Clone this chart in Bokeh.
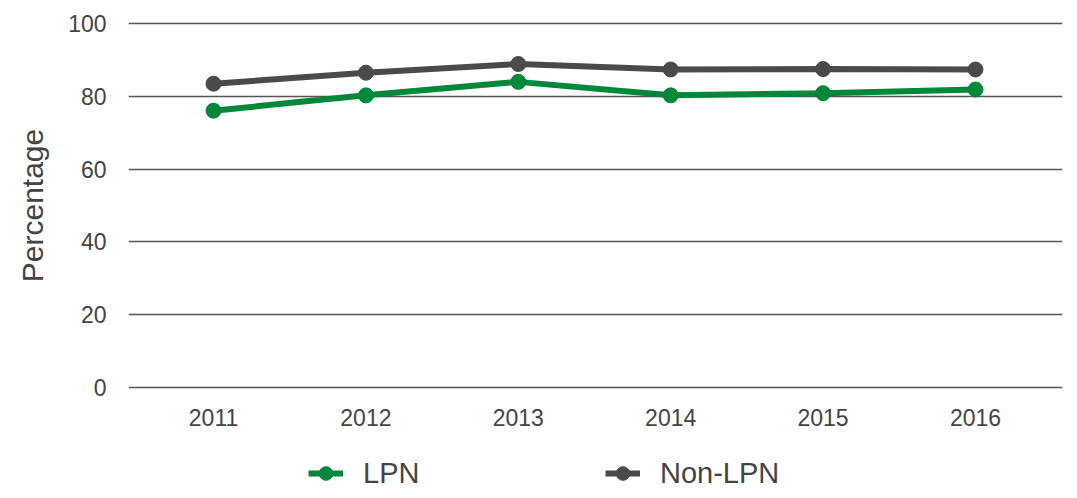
from bokeh.plotting import figure
from bokeh.models import Range1d, FixedTicker, Legend, LegendItem
from bokeh.layouts import column
from bokeh.embed import file_html
from bokeh.resources import INLINE

years = [2011, 2012, 2013, 2014, 2015, 2016]
year_labels = ["2011", "2012", "2013", "2014", "2015", "2016"]
lpn = [76.0, 80.2, 83.9, 80.2, 80.8, 81.8]
non_lpn = [83.4, 86.4, 88.8, 87.3, 87.4, 87.3]
y_ticks = [0, 20, 40, 60, 80, 100]
series = [("LPN", lpn, "#00873a"), ("Non-LPN", non_lpn, "#4a4a4a")]

TEXT = "#444444"
FONT = "Liberation Sans"
W = 1069

xr = Range1d(2010.442, 2016.571)
yr = Range1d(-1, 101)

p = figure(width=W, height=440, output_backend="svg", toolbar_location=None,
           x_range=xr, y_range=yr,
           min_border_left=128, min_border_right=7, min_border_top=19,
           min_border_bottom=49)
p.outline_line_color = None

for name, vals, col in series:
    p.line(years, vals, line_color=col, line_width=6)
    p.scatter(years, vals, size=15, fill_color=col, line_color=col)

p.xgrid.grid_line_color = None
p.ygrid.grid_line_color = "#555555"
p.ygrid.grid_line_width = 1.5
p.ygrid.ticker = FixedTicker(ticks=y_ticks)

p.xaxis.ticker = FixedTicker(ticks=years)
p.xaxis.major_label_overrides = {y: l for y, l in zip(years, year_labels)}
p.yaxis.ticker = FixedTicker(ticks=y_ticks)

for ax in (p.xaxis, p.yaxis):
    ax.axis_line_color = None
    ax.major_tick_line_color = None
    ax.minor_tick_line_color = None
    ax.major_label_text_font = FONT
    ax.major_label_text_font_size = "23px"
    ax.major_label_text_color = TEXT
    ax.major_label_standoff = 16
p.xaxis.major_label_standoff = 11

p.yaxis.axis_label = "Percentage"
p.yaxis.axis_label_text_font = FONT
p.yaxis.axis_label_text_font_size = "30px"
p.yaxis.axis_label_text_font_style = "normal"
p.yaxis.axis_label_text_color = TEXT
p.yaxis.axis_label_standoff = 16

# legend strip below the chart
lg = figure(width=W, height=50, output_backend="svg", toolbar_location=None,
            x_range=xr, y_range=yr, min_border=0)
lg.outline_line_color = None
lg.axis.visible = False
lg.grid.visible = False
items = []
for name, vals, col in series:
    a = lg.line(years, vals, line_color=col, line_width=6, visible=False)
    b = lg.scatter(years, vals, size=15, fill_color=col, line_color=col, visible=False)
    items.append(LegendItem(label=name, renderers=[a, b]))

legend = Legend(items=items, orientation="horizontal", location=(180, 0))
legend.border_line_color = None
legend.background_fill_alpha = 0
legend.inactive_fill_alpha = 0
legend.padding = 0
legend.margin = 0
legend.spacing = 20
legend.label_width = 222
legend.label_standoff = 20
legend.glyph_width = 35
legend.glyph_height = 34
legend.label_text_font = FONT
legend.label_text_font_size = "29px"
legend.label_text_color = TEXT
lg.add_layout(legend, "center")

open("out.html", "w").write(file_html(column(p, lg, spacing=0), INLINE))
